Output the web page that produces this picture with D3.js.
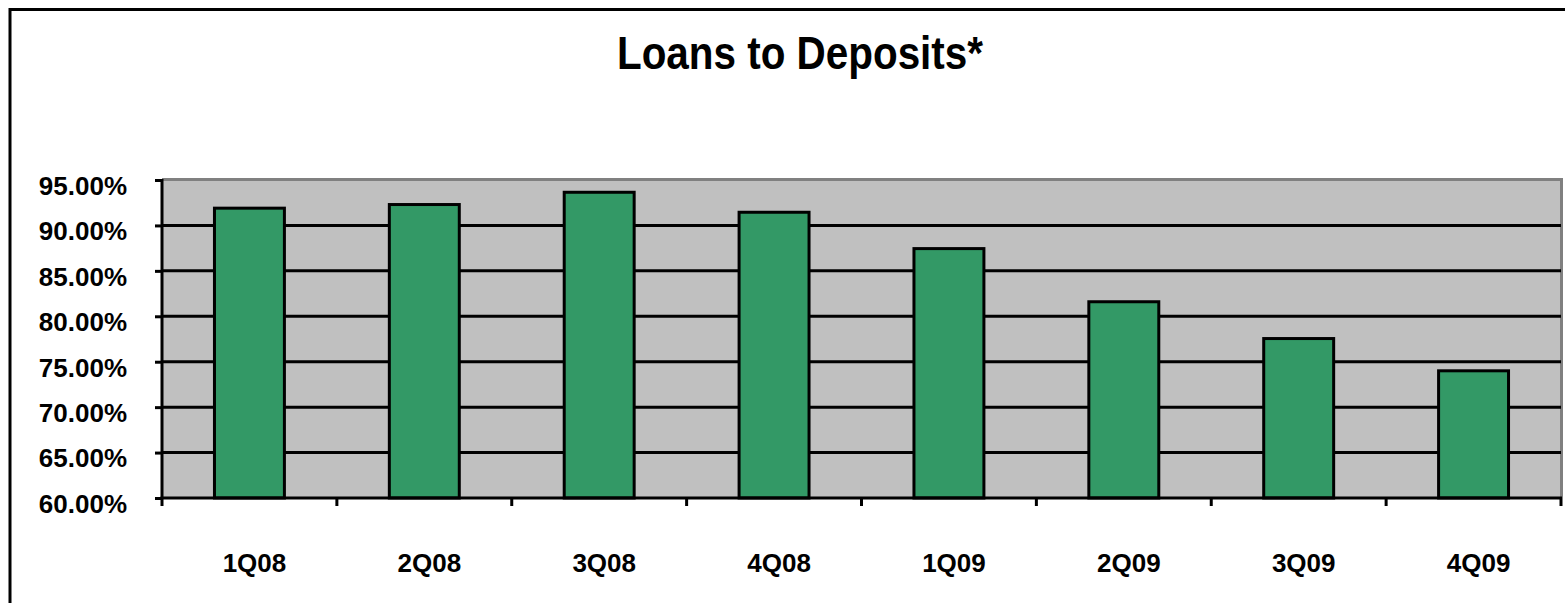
<!DOCTYPE html>
<html>
<head>
<meta charset="utf-8">
<script src="https://cdn.jsdelivr.net/npm/d3@7"></script>
<style>
  html, body { margin: 0; padding: 0; background: #ffffff; }
  svg { display: block; }
  text { font-family: "Liberation Sans", Arial, sans-serif; font-weight: bold; fill: #000; }
</style>
</head>
<body>
<script>
// Quarterly loans-to-deposits ratio (percent)
const quarters = ["1Q08", "2Q08", "3Q08", "4Q08", "1Q09", "2Q09", "3Q09", "4Q09"];
const ratios = [91.9, 92.3, 93.65, 91.45, 87.45, 81.6, 77.55, 74.0];
const yTicks = [60, 65, 70, 75, 80, 85, 90, 95];
const titleText = "Loans to Deposits*";

const W = 1565, H = 603;
const plot = { left: 162, right: 1561, top: 180, bottom: 498 };

const svg = d3.select("body").append("svg").attr("width", W).attr("height", H);

// chart frame
svg.append("rect")
  .attr("x", 10).attr("y", 9.5)
  .attr("width", W + 20).attr("height", H + 20)
  .attr("fill", "#fff").attr("stroke", "#000").attr("stroke-width", 3);

// title
svg.append("text")
  .attr("x", 800).attr("y", 69)
  .attr("text-anchor", "middle")
  .attr("font-size", 46)
  .attr("textLength", 366)
  .attr("lengthAdjust", "spacingAndGlyphs")
  .text(titleText);

const x = d3.scaleBand().domain(quarters).range([plot.left, plot.right]).paddingInner(0.6).paddingOuter(0.3);
const xTickScale = d3.scaleBand().domain(quarters).range([plot.left, plot.right]);
const y = d3.scaleLinear().domain([60, 95]).range([plot.bottom, plot.top]);

// plot area background
svg.append("rect")
  .attr("x", plot.left).attr("y", plot.top)
  .attr("width", plot.right - plot.left).attr("height", plot.bottom - plot.top)
  .attr("fill", "#c0c0c0");
// plot area border (top and right)
svg.append("path")
  .attr("d", `M${plot.left},${plot.top - 0.5}H${plot.right + 0.5}V${plot.bottom}`)
  .attr("fill", "none").attr("stroke", "#808080").attr("stroke-width", 3);

// horizontal gridlines
svg.append("g").selectAll("line")
  .data(yTicks.filter(t => t > 60 && t < 95))
  .join("line")
  .attr("x1", plot.left).attr("x2", plot.right)
  .attr("y1", d => y(d)).attr("y2", d => y(d))
  .attr("stroke", "#000").attr("stroke-width", 3);

// bars
svg.append("g").selectAll("rect")
  .data(quarters.map((q, i) => ({ q, v: ratios[i] })))
  .join("rect")
  .attr("x", d => x(d.q))
  .attr("y", d => y(d.v))
  .attr("width", x.bandwidth())
  .attr("height", d => y(60) - y(d.v))
  .attr("fill", "#339966")
  .attr("stroke", "#000").attr("stroke-width", 3);

// y axis
const yAxis = svg.append("g")
  .attr("transform", `translate(${plot.left},0)`)
  .call(d3.axisLeft(y).tickValues(yTicks).tickSize(7).tickPadding(28)
    .tickFormat(d => d3.format(".2f")(d) + "%"));
yAxis.select(".domain").attr("stroke", "#000").attr("stroke-width", 3)
  .attr("d", `M0,${plot.top - 1}V${plot.bottom}`);
yAxis.selectAll(".tick line").attr("stroke", "#000").attr("stroke-width", 3);
yAxis.selectAll(".tick text")
  .attr("font-size", 26).attr("font-family", "Liberation Sans, Arial, sans-serif")
  .attr("font-weight", "bold").attr("fill", "#000")
  .attr("dy", "0.55em");

// x axis
const xAxis = svg.append("g")
  .attr("transform", `translate(0,${plot.bottom})`)
  .call(d3.axisBottom(xTickScale).tickSize(0).tickPadding(0));
xAxis.select(".domain").remove();
xAxis.append("line")
  .attr("x1", plot.left - 1.5).attr("x2", plot.right + 1)
  .attr("stroke", "#000").attr("stroke-width", 3);
xAxis.selectAll(".tick text")
  .attr("font-size", 26).attr("font-family", "Liberation Sans, Arial, sans-serif")
  .attr("font-weight", "bold").attr("fill", "#000")
  .attr("dx", 5).attr("y", 74).attr("dy", 0);
// category boundary tick marks
xAxis.append("g").selectAll("line")
  .data(quarters.map(q => xTickScale(q)).concat([plot.right]))
  .join("line")
  .attr("x1", d => d).attr("x2", d => d)
  .attr("y1", 0).attr("y2", 8)
  .attr("stroke", "#000").attr("stroke-width", 3);
</script>
</body>
</html>
